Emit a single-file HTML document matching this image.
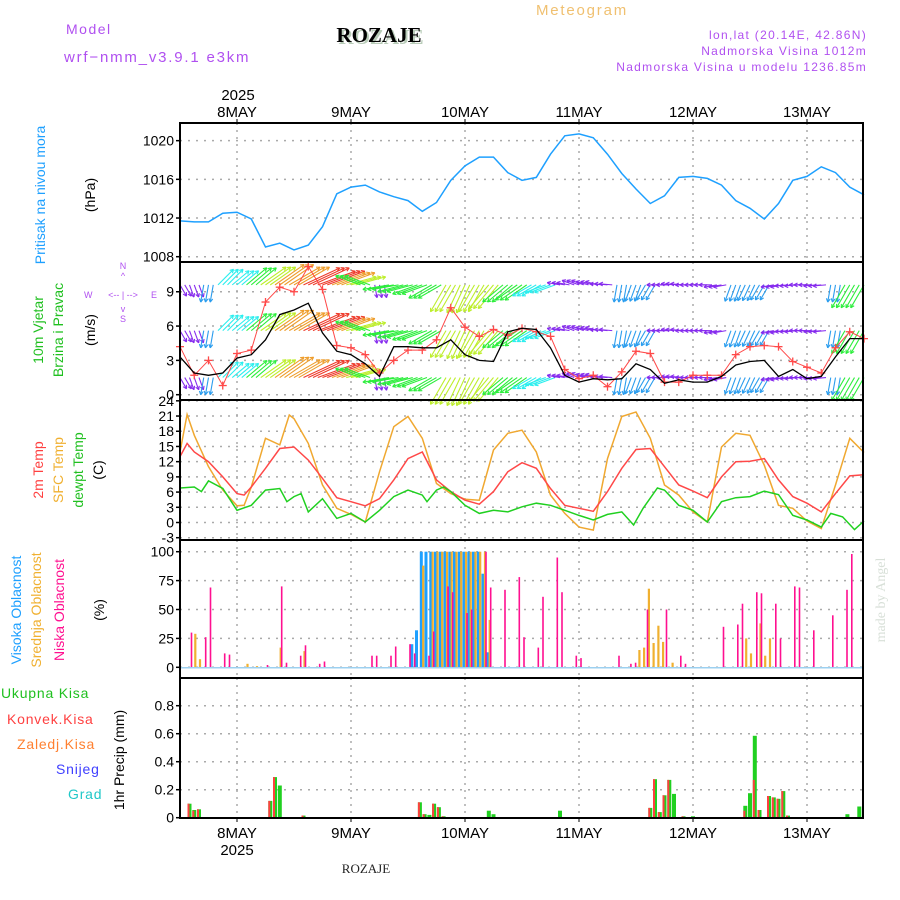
<!DOCTYPE html>
<html><head><meta charset="utf-8"><style>
html,body{margin:0;padding:0;background:#fff;}
svg{display:block;font-family:"Liberation Sans Narrow","Liberation Sans",sans-serif;}
</style></head><body>
<svg id="chart" width="900" height="900" viewBox="0 0 900 900" xmlns="http://www.w3.org/2000/svg">
<g id="hdr">
<text x="66" y="34" font-size="14" fill="#b050f0" letter-spacing="1.5" font-family="Liberation Sans">Model</text>
<text x="64" y="62" font-size="15" fill="#b050f0" letter-spacing="1.8" font-family="Liberation Sans">wrf−nmm_v3.9.1 e3km</text>
<text x="381" y="44" font-size="21" font-weight="bold" fill="#b8ccb8" font-family="Liberation Serif" text-anchor="middle">ROZAJE</text>
<text x="379" y="42" font-size="21" font-weight="bold" fill="#000" font-family="Liberation Serif" text-anchor="middle">ROZAJE</text>
<text x="582" y="15" font-size="15" fill="#f0c070" letter-spacing="1.8" font-family="Liberation Sans" text-anchor="middle">Meteogram</text>
<text x="867" y="39" font-size="12" fill="#b050f0" letter-spacing="1.3" font-family="Liberation Sans" text-anchor="end">lon,lat (20.14E, 42.86N)</text>
<text x="867" y="55" font-size="12" fill="#b050f0" letter-spacing="1.3" font-family="Liberation Sans" text-anchor="end">Nadmorska Visina 1012m</text>
<text x="867" y="71" font-size="12" fill="#b050f0" letter-spacing="1.3" font-family="Liberation Sans" text-anchor="end">Nadmorska Visina u modelu 1236.85m</text>
<text x="238" y="100" font-size="15" fill="#000" text-anchor="middle" font-family="Liberation Sans">2025</text>
<text x="366" y="873" font-size="13" fill="#222" text-anchor="middle" font-family="Liberation Serif">ROZAJE</text>
<text transform="translate(885,600) rotate(-90)" font-size="14" fill="#d8e0d8" text-anchor="middle" font-family="Liberation Serif">made by Angel</text>
</g>
<g id="ylabels">
<text transform="translate(45,195) rotate(-90)" font-size="14" fill="#1ea0ff" text-anchor="middle">Pritisak na nivou mora</text>
<text transform="translate(95,195) rotate(-90)" font-size="14" fill="#000" text-anchor="middle">(hPa)</text>
<text transform="translate(43,330) rotate(-90)" font-size="14" fill="#20c020" text-anchor="middle">10m Vjetar</text>
<text transform="translate(63,330) rotate(-90)" font-size="14" fill="#20c020" text-anchor="middle">Brzina i Pravac</text>
<text transform="translate(95,330) rotate(-90)" font-size="14" fill="#000" text-anchor="middle">(m/s)</text>
<g font-size="9" fill="#b050f0" font-family="Liberation Sans">
<text x="123" y="269" text-anchor="middle">N</text>
<text x="123" y="279" text-anchor="middle">^</text>
<text x="84" y="298">W</text>
<text x="123" y="298" text-anchor="middle">&lt;-- | --&gt;</text>
<text x="151" y="298">E</text>
<text x="123" y="312" text-anchor="middle">v</text>
<text x="123" y="322" text-anchor="middle">S</text>
</g>
<text transform="translate(43,470) rotate(-90)" font-size="14" fill="#ff4040" text-anchor="middle">2m Temp</text>
<text transform="translate(63,470) rotate(-90)" font-size="14" fill="#f0b030" text-anchor="middle">SFC Temp</text>
<text transform="translate(83,470) rotate(-90)" font-size="14" fill="#20c020" text-anchor="middle">dewpt Temp</text>
<text transform="translate(103,470) rotate(-90)" font-size="14" fill="#000" text-anchor="middle">(C)</text>
<text transform="translate(21,610) rotate(-90)" font-size="14" fill="#1ea0ff" text-anchor="middle">Visoka Oblacnost</text>
<text transform="translate(41,610) rotate(-90)" font-size="14" fill="#f0b030" text-anchor="middle">Srednja Oblacnost</text>
<text transform="translate(64,610) rotate(-90)" font-size="14" fill="#ff1090" text-anchor="middle">Niska Oblacnost</text>
<text transform="translate(104,610) rotate(-90)" font-size="14" fill="#000" text-anchor="middle">(%)</text>
<text x="1" y="698" font-size="14" fill="#20c020" letter-spacing="0.8" font-family="Liberation Sans">Ukupna Kisa</text>
<text x="7" y="724" font-size="14" fill="#ff4040" letter-spacing="0.8" font-family="Liberation Sans">Konvek.Kisa</text>
<text x="17" y="749" font-size="14" fill="#ff8030" letter-spacing="0.8" font-family="Liberation Sans">Zaledj.Kisa</text>
<text x="56" y="774" font-size="14" fill="#4040ff" letter-spacing="0.8" font-family="Liberation Sans">Snijeg</text>
<text x="68" y="799" font-size="14" fill="#20c8c8" letter-spacing="0.8" font-family="Liberation Sans">Grad</text>
<text transform="translate(124,760) rotate(-90)" font-size="14" fill="#000" text-anchor="middle">1hr Precip (mm)</text>
</g>
<g id="grid"></g>
<g id="marks"></g>
<g id="axes"></g>
</svg>
<script>
// ---- data (hours from 7 May 12Z) ----
const dayLabels = ["8MAY","9MAY","10MAY","11MAY","12MAY","13MAY"];
const pressure = [1011.7,1011.6,1011.6,1012.5,1012.6,1011.9,1009.0,1009.4,1008.7,1009.2,1011.1,1014.5,1015.2,1015.4,1014.7,1014.2,1013.8,1012.7,1013.6,1015.9,1017.4,1018.3,1018.3,1016.7,1015.9,1016.2,1018.6,1020.5,1020.7,1020.3,1018.6,1016.6,1015.0,1013.5,1014.3,1016.2,1016.3,1016.1,1015.4,1013.8,1013.0,1011.9,1013.5,1015.9,1016.3,1017.3,1016.7,1015.2,1014.4];
const windSpeed = [3.3,1.9,1.7,1.9,3.2,3.5,4.8,7.0,7.4,8.0,5.4,3.8,3.5,2.7,1.6,4.2,4.2,4.1,4.1,4.8,3.5,3.0,2.9,5.5,5.8,5.7,4.1,1.7,1.1,1.4,1.3,1.4,2.7,2.2,1.0,1.3,1.1,1.1,1.6,2.6,2.9,3.0,1.6,2.2,1.4,1.6,3.3,4.9,4.9];
const windGust = [4.2,1.7,3.0,0.8,3.6,3.9,8.1,9.4,9.0,11.2,9.2,4.3,4.1,3.5,1.9,3.0,3.9,3.9,4.8,7.6,5.9,5.1,5.7,5.2,5.8,5.5,5.1,2.2,1.4,1.7,0.7,2.0,3.8,3.6,1.1,1.1,1.7,1.7,1.7,3.5,4.2,4.3,4.2,2.9,2.4,1.9,4.1,5.5,4.9];
const windDir = [-60,-70,-100,45,40,40,35,35,30,25,20,20,15,160,-80,190,195,200,210,240,245,240,230,220,215,210,200,170,160,165,175,-100,-110,-120,180,175,180,180,190,250,245,240,190,185,180,185,-100,240,240];
const arrowSpeed = [2,2,3,4,4,5,6,7,7,8,8,7,6,5,2,5,5,5,5,6,6,6,6,5,5,4,4,2,2,2,2,3,3,3,2,2,2,2,2,3,3,3,2,2,2,2,3,5,5];
const windLevels = [9.6,5.6,1.5];
const t2Hours = [0,1.5,3,6,9,12,13.5,15,18,21,24,27,30,33,36,39,42,45,48,51,54,57,60,63,66,69,72,75,78,81,84,87,90,93,96,99,102,105,108,111,114,117,120,123,126,129,132,135,138,141,144];
const t2m = [13.0,15.6,13.9,12.0,9.0,5.7,5.4,7.0,10.7,14.6,14.9,12.3,8.7,4.9,4.1,3.3,4.7,8.4,12.6,13.9,8.4,6.1,4.4,3.6,6.1,10.0,11.8,10.7,6.7,3.4,2.8,2.2,6.1,10.7,14.4,14.6,11.0,7.4,6.2,4.9,9.0,12.0,12.1,12.6,8.4,5.1,3.8,2.1,5.7,9.2,9.4];
const sfcHours = [0,1.5,3,6,9,12,13.5,15,18,21,23,24,27,30,33,36,39,42,45,48,51,54,57,60,63,66,69,72,75,78,81,84,87,90,93,96,99,102,105,108,111,114,117,120,123,126,129,132,135,138,141,144];
const tSfc = [13.9,21.3,17.2,11.0,6.4,3.3,3.4,7.0,16.6,15.3,21.2,20.5,15.6,7.4,2.8,1.6,0.1,10.0,18.9,20.9,16.6,7.7,5.7,4.6,4.4,14.3,17.6,18.2,13.9,5.4,1.8,-0.9,-1.5,12.6,20.9,21.8,16.6,7.4,5.4,2.1,0.1,14.9,17.6,17.2,11.3,3.4,2.8,0.3,-1.2,7.4,16.6,13.8];
const dewHours = [0,3,4.5,6,9,12,15,18,21,22.5,24,25.5,27,30,33,36,39,42,45,48,51,52,54,55.5,57,60,63,66,69,72,75,78,81,84,87,90,93,95.5,97.5,100.5,102,105,108,111,114,117,120,123,126,129,132,135,137,139.5,142,144];
const tDew = [6.8,7.0,6.1,8.2,6.7,2.4,3.4,6.4,6.7,4.1,5.1,5.7,2.1,4.7,0.8,1.8,0.1,2.4,5.1,6.4,5.4,4.1,6.4,7.0,6.1,3.4,1.8,2.4,2.1,3.1,3.8,3.4,2.4,1.4,0.5,1.6,2.1,-0.5,2.8,6.8,6.4,3.4,2.4,0.1,4.1,4.9,5.1,6.2,5.5,1.4,0.5,-0.9,1.8,1.1,-1.4,0.3];
const lowHours = [2,5,6,9,10,18,21,22,25,26,29,30,40,41,44,45,48,49,52,53,56,57,60,61,64,65,68,71,72,75,76,79,80,83,84,92,94.5,95.5,98,102,105,106,114,117,118,121,122,125,126,129,130,133,137,140,141];
const lowCloud = [30,26,69,12,11,2,70,4,10,19,3,5,10,10,10,18,20,12,10,31,70,65,47,50,100,69,67,78,26,17,61,95,65,10,8,10,3,4,50,50,10,3,35,37,55,65,64,55,25,70,69,32,45,67,98];
const midHours = [3,4,14,16,21,26,51,53,54,55,56,57,58,59,60,61,62,63,64,65,96.5,97.5,98.5,99.5,100.5,101.5,103.5,119,120,122,123,124];
const midCloud = [29,7,3,1,17,14,88,100,100,100,100,100,100,100,100,100,100,100,100,41,15,17,68,21,36,22,4,25,12,38,10,25];
const highHours = [49,50,51,52,53,54,55,56,57,58,59,60,61,62,63,64,65];
const highCloud = [20,32,100,100,100,100,100,100,100,100,100,100,100,100,100,81,13];
const precHours = [2,3,4,19,20,21,26,50.5,51.5,52.5,53.5,54.5,55.5,65,66,80,99,100,101,102,103,104,106,108,119,120,121,122,124,125,126,127,128,140.5,143];
const precTotal = [0.10,0.055,0.06,0.12,0.29,0.23,0.015,0.11,0.025,0.02,0.10,0.075,0.01,0.05,0.025,0.05,0.07,0.275,0.04,0.16,0.27,0.17,0.01,0.01,0.085,0.175,0.585,0.055,0.155,0.145,0.135,0.19,0.015,0.025,0.08];
const precConv = [0.10,0.05,0.06,0.12,0.29,0,0.015,0.11,0.025,0,0.10,0.075,0.01,0,0,0,0.07,0.275,0.04,0.16,0.27,0,0.01,0,0.05,0,0.27,0.055,0.155,0.145,0.135,0.19,0.015,0,0];
const pTicks = [1008,1012,1016,1020];
const wTicks = [0,3,6,9];
const tTicks = [-3,0,3,6,9,12,15,18,21,24];
const cTicks = [0,25,50,75,100];
const rTicks = [0,0.2,0.4,0.6,0.8];

// ---- scales ----
const L=180,R=863;
const X = h => L + h*4.75;
const Yp = v => 256.7 - (v-1008)*9.67;
const Yw = v => 394.7 - v*11.44;
const Yt = v => 522.5 - v*5.07;
const Yc = v => 667.3 - v*1.156;
const Yr = v => 817.7 - v*140;
const panels=[[123,262],[262,400],[400,540],[540,678],[678,818]];
const NS="http://www.w3.org/2000/svg";
function mk(parent,tag,attrs){const e=document.createElementNS(NS,tag);for(const k in attrs)e.setAttribute(k,attrs[k]);parent.appendChild(e);return e;}
const grid=document.getElementById('grid'),marks=document.getElementById('marks'),axes=document.getElementById('axes');
const hstep=i=>i*3;

// grid
panels.forEach(([t,b],pi)=>{
  dayLabels.forEach((d,i)=>{const l=mk(grid,'line',{x1:X(12+24*i),x2:X(12+24*i),y1:t,y2:b,stroke:'#aaa','stroke-width':1.5,'stroke-dasharray':'2,5'});
  
  });
});
function hgrid(ticks,Y,name){ticks.forEach(v=>{const l=mk(grid,'line',{x1:L,x2:R,y1:Y(v),y2:Y(v),stroke:'#aaa','stroke-width':1.5,'stroke-dasharray':'2,6'});
  
  
  const tk=mk(axes,'line',{x1:L-4,x2:L,y1:Y(v),y2:Y(v),stroke:'#000','stroke-width':1.5});
  
  
  const tx=mk(axes,'text',{x:L-6,y:Y(v)+5,'font-size':14,'text-anchor':'end',fill:'#000','font-family':'Liberation Sans'});
  tx.textContent=String(v);
  
  });}
hgrid(pTicks,Yp,'pressure');hgrid(wTicks,Yw,'wind');hgrid(tTicks,Yt,'temp');hgrid(cTicks,Yc,'cloud');hgrid(rTicks,Yr,'precip');

// pressure line
function poly(xs,ys,Y,color,name,w){const pts=ys.map((v,i)=>X(xs[i]).toFixed(1)+','+Y(v).toFixed(1)).join(' ');
  const p=mk(marks,'polyline',{points:pts,fill:'none',stroke:color,'stroke-width':w||1.5});
  
  }
poly(pressure.map((v,i)=>hstep(i)),pressure,Yp,'#1ea0ff','pressure-line');

// wind arrows
const hueBySpeed=[275,275,268,205,180,125,75,35,5,0];
function arrowColor(s){const k=Math.max(0,Math.min(9,Math.round(s)));return 'hsl('+hueBySpeed[k]+',85%,55%)';}
windLevels.forEach((lv,li)=>{
  windDir.forEach((d,i)=>{
    const len=arrowSpeed[i]*4.5+4, a=d*Math.PI/180, col=arrowColor(arrowSpeed[i]);
    [-1,0,1].forEach(o=>{
      const h=hstep(i)+o; if(h<0||h>144.5) return;
      const x0=X(h),y0=Yw(lv),x1=x0+len*Math.cos(a),y1=y0-len*Math.sin(a);
      const g=mk(marks,'g',{stroke:col,'stroke-width':1.1,fill:'none'});
      
      
      mk(g,'line',{x1:x0,y1:y0,x2:x1,y2:y1});
      const hb=4;[a+Math.PI-0.5,a+Math.PI+0.5].forEach(b=>mk(g,'line',{x1:x1,y1:y1,x2:x1+hb*Math.cos(b),y2:y1-hb*Math.sin(b)}));
    });
  });
});
// gusts
poly(windGust.map((v,i)=>hstep(i)),windGust,Yw,'#ff4848','wind-gust-line',1);
windGust.forEach((v,i)=>{const x=X(hstep(i)),y=Yw(v);const g=mk(marks,'g',{stroke:'#ff4848','stroke-width':1.3});
  
  
  mk(g,'line',{x1:x-4,x2:x+4,y1:y,y2:y});mk(g,'line',{x1:x,x2:x,y1:y-4,y2:y+4});});
poly(windSpeed.map((v,i)=>hstep(i)),windSpeed,Yw,'#000','wind-speed-line',1.3);

// temps
poly(sfcHours,tSfc,Yt,'#f0a830','sfc-temp-line');
poly(t2Hours,t2m,Yt,'#ff4848','2m-temp-line');
poly(dewHours,tDew,Yt,'#20d020','dewpoint-line');

// clouds
function bars(hours,vals,Y,color,off,w,name){vals.forEach((v,i)=>{if(v<=0)return;const x=X(hours[i])+off;
  const r=mk(marks,'rect',{x:(x-w/2).toFixed(1),y:Y(v).toFixed(1),width:w,height:(Y(0)-Y(v)).toFixed(1),fill:color});
  
  });}
bars(highHours,highCloud,Yc,'#1ea0ff',-1,3,'high-cloud-bar');
bars(midHours,midCloud,Yc,'#f0b030',1,2.2,'mid-cloud-bar');
bars(lowHours,lowCloud,Yc,'#ff1090',2,1.6,'low-cloud-bar');
const base=mk(marks,'line',{x1:L,x2:R,y1:Yc(0)+0.5,y2:Yc(0)+0.5,stroke:'#9cd0f0','stroke-width':1.5});



// precip
bars(precHours,precTotal,Yr,'#20d020',0,4,'precip-total-bar');
bars(precHours,precConv,Yr,'#ff4040',-1,2,'precip-convective-bar');
const pb=mk(marks,'line',{x1:L,x2:R,y1:Yr(0),y2:Yr(0),stroke:'#000','stroke-width':1.5,'stroke-dasharray':'5,2'});



// panel frames
panels.forEach(([t,b],i)=>{const r=mk(axes,'rect',{x:L,y:t,width:R-L,height:b-t,fill:'none',stroke:'#000','stroke-width':2});
  
  });
// day labels
dayLabels.forEach((d,i)=>{const x=X(12+24*i);
  [[123,119],[818,822]].forEach(([y1,y2])=>{const l=mk(axes,'line',{x1:x,x2:x,y1:y1,y2:y2,stroke:'#000','stroke-width':1});
    
    });
  const t=mk(axes,'text',{x:x,y:117,'font-size':15,'text-anchor':'middle',fill:'#000','font-family':'Liberation Sans'});t.textContent=d;
  
  
  const b=mk(axes,'text',{x:x,y:838,'font-size':15,'text-anchor':'middle',fill:'#000','font-family':'Liberation Sans'});b.textContent=d;
  
  
});
const yb=mk(axes,'text',{x:X(12),y:855,'font-size':15,'text-anchor':'middle',fill:'#000','font-family':'Liberation Sans'});yb.textContent='2025';


</script>
</body></html>
